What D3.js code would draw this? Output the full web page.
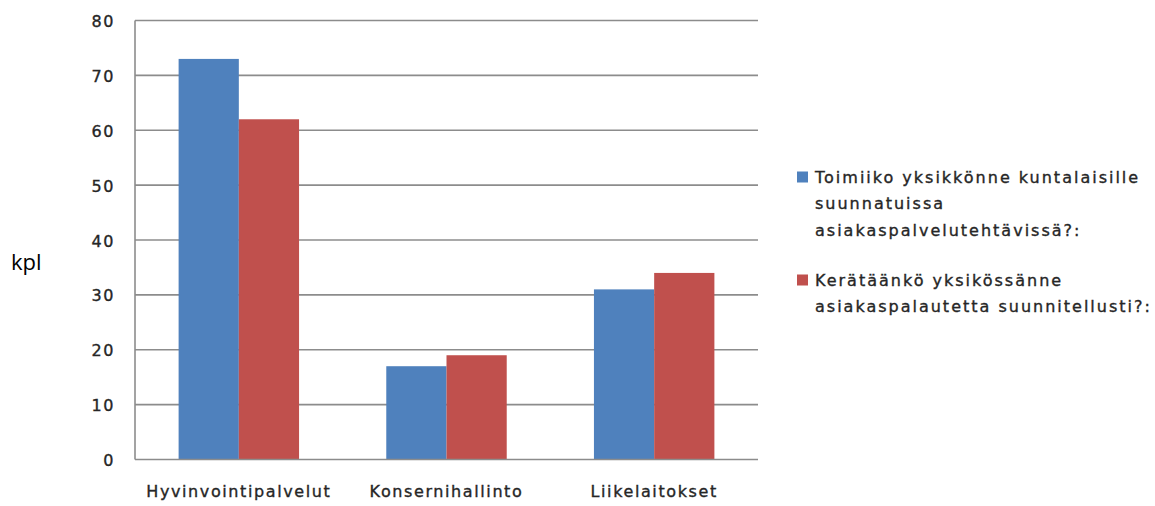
<!DOCTYPE html>
<html><head><meta charset="utf-8">
<script src="https://cdn.jsdelivr.net/npm/d3@7"></script>
<style>body{margin:0;background:#fff;} svg{display:block;}</style>
</head><body>
<script>
const categories = ["Hyvinvointipalvelut", "Konsernihallinto", "Liikelaitokset"];
const seriesNames = [
  ["Toimiiko yksikkönne kuntalaisille", "suunnatuissa", "asiakaspalvelutehtävissä?:"],
  ["Kerätäänkö yksikössänne", "asiakaspalautetta suunnitellusti?:"]
];
const series1 = [73, 17, 31];
const series2 = [62, 19, 34];
const yTicks = [0, 10, 20, 30, 40, 50, 60, 70, 80];
const colors = ["#4F81BD", "#C0504D"];

const W = 1155, H = 506;
const svg = d3.select("body").append("svg").attr("width", W).attr("height", H);
const pLeft = 135, pRight = 758, pTop = 20.5, pBottom = 459.5;

const x = d3.scaleBand().domain(categories).range([pLeft, pRight]).paddingInner(0.42).paddingOuter(0.21);
const xs = d3.scaleBand().domain([0, 1]).range([0, x.bandwidth()]);
const y = d3.scaleLinear().domain([0, 80]).range([pBottom, pTop]);

// gridlines
svg.append("g").selectAll("line").data(yTicks.filter(d => d > 0)).join("line")
  .attr("x1", pLeft).attr("x2", pRight)
  .attr("y1", d => y(d)).attr("y2", d => y(d))
  .attr("stroke", "#8c8c8c").attr("stroke-width", 1.6);

const fontAx = "DejaVu Sans, Verdana, sans-serif";
function styleText(sel) {
  sel.attr("font-family", fontAx).attr("font-size", 16).attr("fill", "#262626")
    .attr("stroke", "#262626").attr("stroke-width", 0.35).attr("letter-spacing", 1.6);
}
// y axis
const ya = svg.append("g").attr("transform", `translate(${pLeft},0)`)
  .call(d3.axisLeft(y).tickValues(yTicks).tickSize(0).tickPadding(20));
ya.select(".domain").remove();
ya.selectAll("text").call(styleText).attr("dy", "0.38em");

// bars
const data = categories.map((c, i) => ({c, v: [series1[i], series2[i]]}));
const g = svg.append("g");
data.forEach(d => {
  d.v.forEach((v, j) => {
    g.append("rect")
      .attr("x", x(d.c) + xs(j)).attr("width", xs.bandwidth())
      .attr("y", y(v)).attr("height", y(0) - y(v))
      .attr("fill", colors[j]);
  });
});

// axes lines
svg.append("line").attr("x1", pLeft).attr("x2", pLeft).attr("y1", pTop).attr("y2", pBottom)
  .attr("stroke", "#8c8c8c").attr("stroke-width", 1.6);
svg.append("line").attr("x1", pLeft).attr("x2", pRight).attr("y1", pBottom).attr("y2", pBottom)
  .attr("stroke", "#8c8c8c").attr("stroke-width", 1.6);

// x axis labels
const xa = svg.append("g").attr("transform", `translate(0,${pBottom})`)
  .call(d3.axisBottom(x).tickSize(0).tickPadding(26));
xa.select(".domain").remove();
xa.selectAll("text").call(styleText);

// y title
svg.append("text").attr("x", 11).attr("y", 270).text("kpl")
  .attr("font-family", "Open Sans, sans-serif").attr("font-size", 22).attr("fill", "#000");

// legend
const legY = [177, 280];
seriesNames.forEach((lines, j) => {
  svg.append("rect").attr("x", 797).attr("y", legY[j] - 5.5).attr("width", 11).attr("height", 11).attr("fill", colors[j]);
  lines.forEach((t, k) => {
    svg.append("text").attr("x", 815).attr("y", legY[j] + k * 26.7).attr("dy", "0.35em")
      .text(t).call(styleText).attr("letter-spacing", 2);
  });
});
</script>
</body></html>
